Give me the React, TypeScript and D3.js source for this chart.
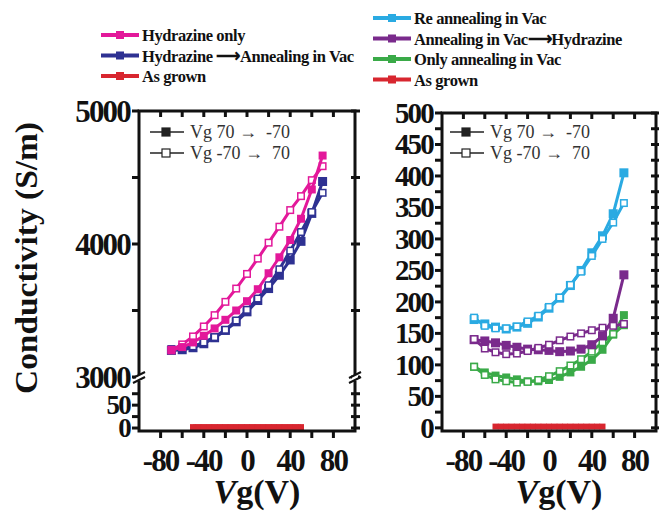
import React from 'react'
import * as d3 from 'd3'

const W = 661
const H = 518
const FONT = '"Liberation Serif", "Times New Roman", serif'

// gate voltage sweeps
const vgSweep = [-70, -60, -50, -40, -30, -20, -10, 0, 10, 20, 30, 40, 50, 60, 70]
const vgGrown = [-50, -45, -40, -35, -30, -25, -20, -15, -10, -5, 0, 5, 10, 15, 20, 25, 30, 35, 40, 45, 50]

// left panel, conductivity S/m (down = Vg 70 -> -70, up = Vg -70 -> 70)
const hydOnlyDown = [3200, 3225, 3260, 3310, 3365, 3430, 3500, 3570, 3660, 3780, 3900, 4030, 4190, 4410, 4665]
const hydOnlyUp = [3205, 3245, 3305, 3380, 3465, 3565, 3665, 3775, 3890, 4010, 4130, 4255, 4360, 4480, 4585]
const hydAnnDown = [3200, 3205, 3220, 3250, 3295, 3350, 3415, 3490, 3575, 3665, 3765, 3880, 4020, 4230, 4470]
const hydAnnUp = [3210, 3215, 3230, 3260, 3300, 3355, 3425, 3505, 3590, 3690, 3810, 3950, 4090, 4240, 4385]
const grownLeft = [2, 2, 2, 2, 2, 2, 2, 2, 2, 2, 2, 2, 2, 2, 2, 2, 2, 2, 2, 2, 2]

// right panel
const reAnnDown = [172, 165, 160, 157, 160, 166, 176, 190, 206, 226, 250, 278, 305, 340, 405]
const reAnnUp = [175, 162, 158, 158, 161, 169, 178, 192, 207, 227, 248, 273, 300, 326, 357]
const annHydDown = [140, 138, 135, 131, 128, 125, 124, 123, 121, 122, 125, 132, 146, 174, 243]
const annHydUp = [141, 126, 120, 117, 118, 122, 127, 132, 139, 145, 150, 155, 159, 162, 165]
const onlyAnnDown = [97, 88, 83, 80, 77, 74, 74, 76, 81, 88, 97, 108, 124, 148, 179]
const onlyAnnUp = [97, 84, 77, 74, 72, 73, 76, 82, 90, 99, 109, 121, 136, 149, 163]
const grownRight = [2, 2, 2, 2, 2, 2, 2, 2, 2, 2, 2, 2, 2, 2, 2, 2, 2, 2, 2, 2, 2]

const xTicks = [-80, -60, -40, -20, 0, 20, 40, 60, 80]
const xLabels = [-80, -40, 0, 40, 80]
const leftUpperTicks = [3000, 3500, 4000, 4500, 5000]
const leftUpperLabels = [3000, 4000, 5000]
const leftLowerTicks = [0, 25, 50, 75]
const leftLowerLabels = [0, 50]
const rightTicks = [0, 25, 50, 75, 100, 125, 150, 175, 200, 225, 250, 275, 300, 325, 350, 375, 400, 425, 450, 475, 500]
const rightLabels = [0, 50, 100, 150, 200, 250, 300, 350, 400, 450, 500]

const legendLeft = [
  { name: 'Hydrazine only', color: '#e3189a' },
  { name: 'Hydrazine \u27f6Annealing in Vac', color: '#2e3192' },
  { name: 'As grown', color: '#d8262f' },
]
const legendRight = [
  { name: 'Re annealing in Vac', color: '#2aaae2' },
  { name: 'Annealing in Vac\u27f6Hydrazine', color: '#7a2a8c' },
  { name: 'Only annealing in Vac', color: '#3aaa48' },
  { name: 'As grown', color: '#d8262f' },
]

type Sc = d3.ScaleLinear<number, number>

const Series = ({ xs, ys, x, y, color, open, size = 8, width = 3 }:
  { xs: number[]; ys: number[]; x: Sc; y: Sc; color: string; open?: boolean; size?: number; width?: number }) => {
  const pts = xs.map((v, i) => [x(v), y(ys[i])] as [number, number])
  const line = d3.line()
  return (
    <g>
      <path d={line(pts) || ''} fill="none" stroke={color} strokeWidth={width} />
      {pts.map((p, i) =>
        open ? (
          <rect key={i} x={p[0] - size / 2 + 0.75} y={p[1] - size / 2 + 0.75} width={size - 1.5} height={size - 1.5}
            fill="#fff" stroke={color} strokeWidth={1.5} />
        ) : (
          <rect key={i} x={p[0] - size / 2} y={p[1] - size / 2} width={size} height={size} fill={color} />
        ))}
    </g>
  )
}

const BigText = (props: any) => (
  <text fontFamily={FONT} fontWeight="bold" fontSize={31} letterSpacing={-1.8} fill="#111" {...props} />
)

const Inset = ({ x0, y0 }: { x0: number; y0: number }) => (
  <g fontFamily={FONT} fontSize={18} fill="#333">
    {[0, 1].map(i => (
      <g key={i} transform={`translate(${x0},${y0 + i * 21})`}>
        <line x1={0} x2={34} y1={0} y2={0} stroke="#222" strokeWidth={1.3} />
        <rect x={12} y={-4} width={8} height={8} fill={i === 0 ? '#222' : '#fff'} stroke="#222" strokeWidth={1.2} />
        <text x={40} y={6} style={{ whiteSpace: 'pre' }}>{i === 0 ? 'Vg 70 \u2192  -70' : 'Vg -70 \u2192  70'}</text>
      </g>
    ))}
  </g>
)

const XAxis = ({ x, top, bottom }: { x: Sc; top: number; bottom: number }) => (
  <g>
    {xTicks.map(t => (
      <g key={t}>
        <line x1={x(t)} x2={x(t)} y1={top} y2={top + 6} stroke="#111" strokeWidth={3} />
        <line x1={x(t)} x2={x(t)} y1={bottom} y2={bottom + 7} stroke="#111" strokeWidth={3} />
      </g>
    ))}
    {xLabels.map(t => (
      <BigText key={t} x={x(t)} y={bottom + 40} textAnchor="middle">{t}</BigText>
    ))}
    <text x={(x.range()[0] + x.range()[1]) / 2 + 10} y={bottom + 72} textAnchor="middle" fontFamily={FONT}
      fontWeight="bold" fontSize={34} fill="#111">
      <tspan fontStyle="italic">V</tspan><tspan>g(V)</tspan>
    </text>
  </g>
)

const BreakMark = ({ cx, cy }: { cx: number; cy: number }) => (
  <g>
    <rect x={cx - 3} y={cy - 3} width={6} height={6} fill="#fff" />
    <line x1={cx - 6} y1={cy} x2={cx + 6} y2={cy - 6} stroke="#111" strokeWidth={2} />
    <line x1={cx - 6} y1={cy + 5} x2={cx + 6} y2={cy - 1} stroke="#111" strokeWidth={2} />
  </g>
)

const LeftPanel = () => {
  const x = d3.scaleLinear().domain([-100, 100]).range([139, 355])
  const yUp = d3.scaleLinear().domain([3000, 5000]).range([377, 111])
  const yLow = d3.scaleLinear().domain([-6.5, 105]).range([431, 380])
  const [l, r] = x.range()
  const top = 111
  const bottom = 431
  const brk = 378
  return (
    <g>
      <Series xs={vgSweep} ys={hydAnnDown} x={x} y={yUp} color="#2e3192" size={9} />
      <Series xs={vgSweep} ys={hydAnnUp} x={x} y={yUp} color="#2e3192" open size={8} />
      <Series xs={vgSweep} ys={hydOnlyUp} x={x} y={yUp} color="#e3189a" open size={8} />
      <Series xs={vgSweep} ys={hydOnlyDown} x={x} y={yUp} color="#e3189a" size={8} />
      <Series xs={vgGrown} ys={grownLeft} x={x} y={yLow} color="#d8262f" size={6} width={5} />
      <rect x={l} y={top} width={r - l} height={bottom - top} fill="none" stroke="#111" strokeWidth={3} />
      {leftUpperTicks.map(t => (
        <g key={t}>
          <line x1={l - 7} x2={l} y1={yUp(t)} y2={yUp(t)} stroke="#111" strokeWidth={3} />
          <line x1={r - 4} x2={r + 5} y1={yUp(t)} y2={yUp(t)} stroke="#111" strokeWidth={3} />
        </g>
      ))}
      {leftLowerTicks.map(t => (
        <g key={t}>
          <line x1={l - 7} x2={l} y1={yLow(t)} y2={yLow(t)} stroke="#111" strokeWidth={3} />
          <line x1={r - 4} x2={r + 5} y1={yLow(t)} y2={yLow(t)} stroke="#111" strokeWidth={3} />
        </g>
      ))}
      {leftUpperLabels.map(t => (
        <BigText key={t} x={l - 9} y={yUp(t) + 11} textAnchor="end">{t}</BigText>
      ))}
      {leftLowerLabels.map(t => (
        <BigText key={t} x={l - 9} y={yLow(t) + 9} textAnchor="end" fontSize={27}>{t}</BigText>
      ))}
      <BreakMark cx={l} cy={brk} />
      <BreakMark cx={r} cy={brk} />
      <XAxis x={x} top={top} bottom={bottom} />
      <Inset x0={150} y0={132} />
    </g>
  )
}

const RightPanel = () => {
  const x = d3.scaleLinear().domain([-100, 100]).range([442, 656])
  const y = d3.scaleLinear().domain([-5, 500]).range([431, 113])
  const [l, r] = x.range()
  const top = 113
  const bottom = 431
  return (
    <g>
      <Series xs={vgSweep} ys={onlyAnnDown} x={x} y={y} color="#3aaa48" size={8} />
      <Series xs={vgSweep} ys={onlyAnnUp} x={x} y={y} color="#3aaa48" open size={8} />
      <Series xs={vgSweep} ys={annHydDown} x={x} y={y} color="#7a2a8c" size={9} />
      <Series xs={vgSweep} ys={annHydUp} x={x} y={y} color="#7a2a8c" open size={8} />
      <Series xs={vgSweep} ys={reAnnDown} x={x} y={y} color="#2aaae2" size={9} />
      <Series xs={vgSweep} ys={reAnnUp} x={x} y={y} color="#2aaae2" open size={8} />
      <Series xs={vgGrown} ys={grownRight} x={x} y={y} color="#d8262f" size={6} width={5} />
      <rect x={l} y={top} width={r - l} height={bottom - top} fill="none" stroke="#111" strokeWidth={3} />
      {rightTicks.map(t => (
        <g key={t}>
          <line x1={l - 7} x2={l} y1={y(t)} y2={y(t)} stroke="#111" strokeWidth={3} />
          <line x1={r - 5} x2={r + 3} y1={y(t)} y2={y(t)} stroke="#111" strokeWidth={3} />
        </g>
      ))}
      {rightLabels.map(t => (
        <BigText key={t} x={l - 9} y={y(t) + 10} textAnchor="end" fontSize={29}>{t}</BigText>
      ))}
      <XAxis x={x} top={top} bottom={bottom} />
      <Inset x0={450} y0={132} />
    </g>
  )
}

const Legend = ({ items, x0, y0 }: { items: { name: string; color: string }[]; x0: number; y0: number }) => (
  <g fontFamily={FONT} fontWeight="bold" fontSize={16.5} fill="#111">
    {items.map((it, i) => (
      <g key={it.name + i} transform={`translate(${x0},${y0 + i * 20.5})`}>
        <line x1={0} x2={38} y1={0} y2={0} stroke={it.color} strokeWidth={4} />
        <rect x={15} y={-4} width={8} height={8} fill={it.color} />
        <text x={41} y={6} letterSpacing={-0.4}>{it.name}</text>
      </g>
    ))}
  </g>
)

export default function App() {
  return (
    <svg width={W} height={H} viewBox={`0 0 ${W} ${H}`}
      style={{ position: 'absolute', left: 0, top: 0, background: '#fff' }}>
      <Legend items={legendLeft} x0={101} y0={35} />
      <Legend items={legendRight} x0={373} y0={18} />
      <text transform="translate(37,258) rotate(-90)" textAnchor="middle" fontFamily={FONT} fontWeight="bold"
        fontSize={32} fill="#111" textLength={272} lengthAdjust="spacingAndGlyphs">Conductivity (S/m)</text>
      <LeftPanel />
      <RightPanel />
    </svg>
  )
}
